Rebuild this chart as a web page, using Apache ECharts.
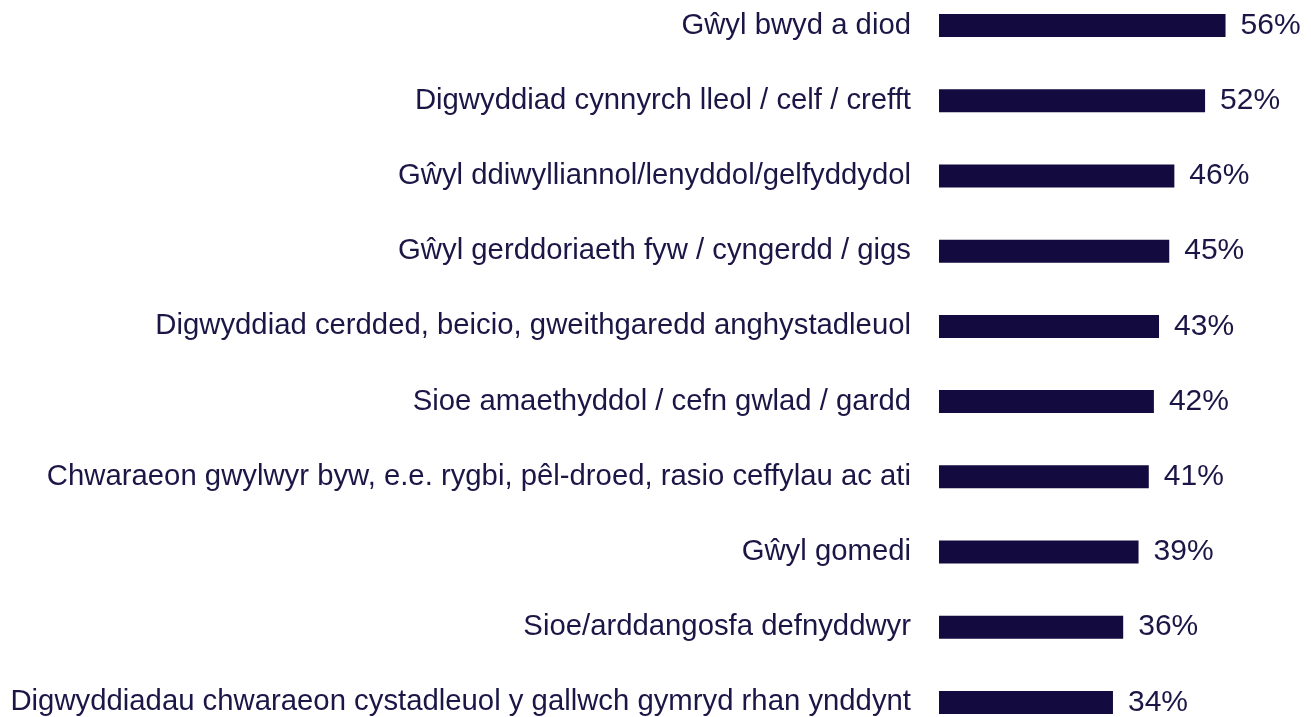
<!DOCTYPE html>
<html>
<head>
<meta charset="utf-8">
<script src="https://cdn.jsdelivr.net/npm/echarts@6/dist/echarts.min.js"></script>
<style>
  html, body { margin: 0; padding: 0; background: #fff; }
  #container { width: 1311px; height: 717px; }
</style>
</head>
<body>
<div id="container"></div>
<script>
// categories, top to bottom
var categories = [
  'Gŵyl bwyd a diod',
  'Digwyddiad cynnyrch lleol / celf / crefft',
  'Gŵyl ddiwylliannol/lenyddol/gelfyddydol',
  'Gŵyl gerddoriaeth fyw / cyngerdd / gigs',
  'Digwyddiad cerdded, beicio, gweithgaredd anghystadleuol',
  'Sioe amaethyddol / cefn gwlad / gardd',
  'Chwaraeon gwylwyr byw, e.e. rygbi, pêl-droed, rasio ceffylau ac ati',
  'Gŵyl gomedi',
  'Sioe/arddangosfa defnyddwyr',
  'Digwyddiadau chwaraeon cystadleuol y gallwch gymryd rhan ynddynt'
];
var values = [56, 52, 46, 45, 43, 42, 41, 39, 36, 34];

var dom = document.getElementById('container');
var myChart = echarts.init(dom);
var option = {
  animation: false,
  grid: {
    left: 939,
    width: 307,
    top: -12,
    height: 752,
    containLabel: false,
    outerBoundsMode: 'none'
  },
  xAxis: {
    type: 'value',
    min: 0,
    max: 60,
    show: false
  },
  yAxis: {
    type: 'category',
    inverse: true,
    data: categories,
    axisLine: { show: false },
    axisTick: { show: false },
    splitLine: { show: false },
    axisLabel: {
      margin: 28,
      fontFamily: 'Liberation Sans',
      fontSize: 29.3,
      color: '#1b1646'
    }
  },
  series: [
    {
      type: 'bar',
      data: values,
      barWidth: 23,
      itemStyle: { color: '#130a40' },
      label: {
        show: true,
        position: 'right',
        distance: 15,
        formatter: '{c}%',
        fontFamily: 'Liberation Sans',
        fontSize: 30,
        color: '#1b1646'
      }
    }
  ]
};
myChart.setOption(option);
</script>
</body>
</html>
